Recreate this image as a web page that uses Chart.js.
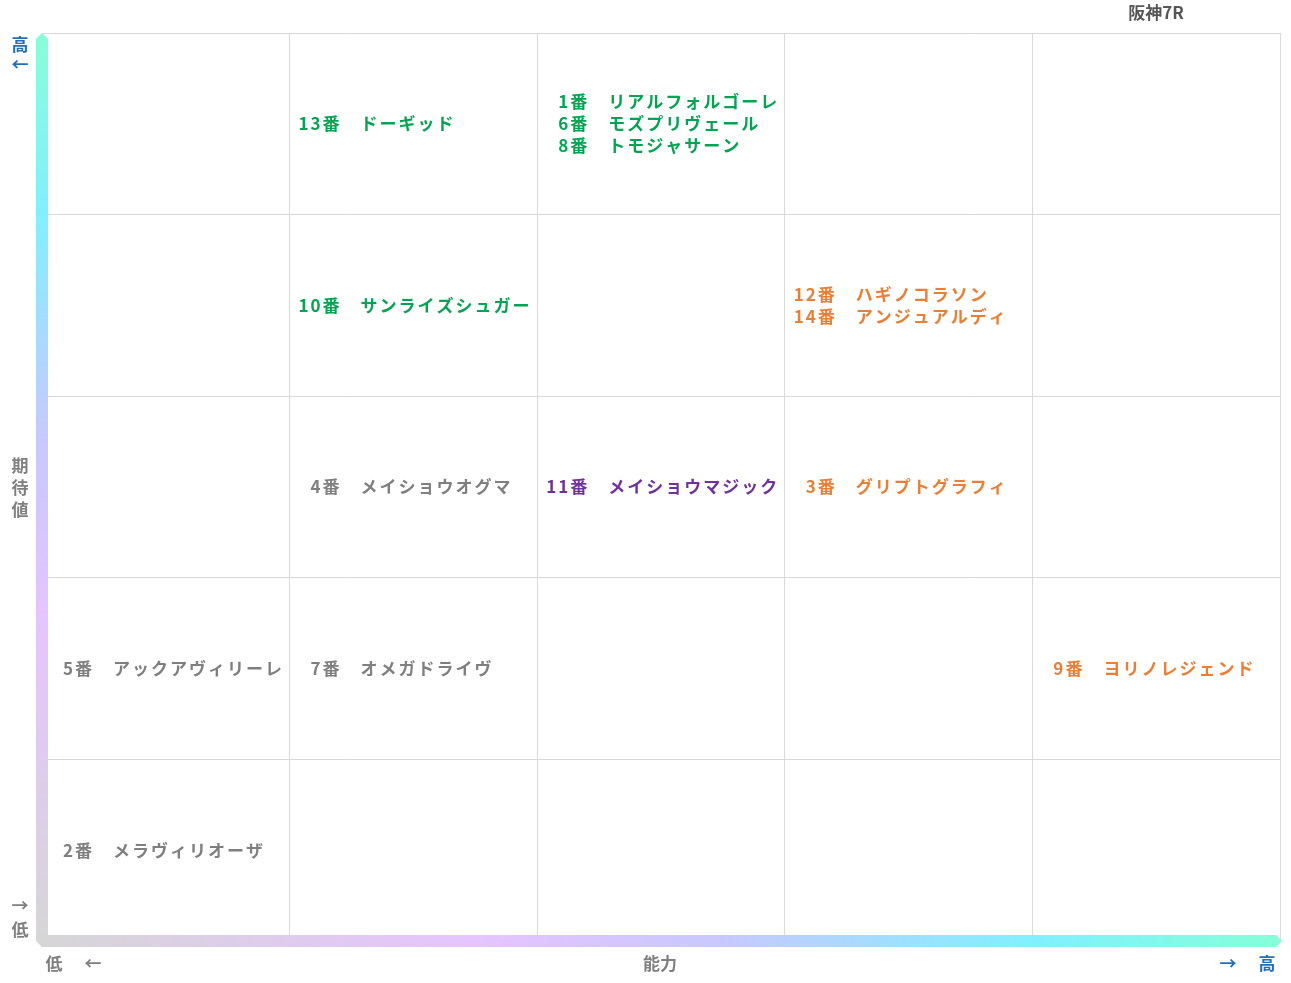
<!DOCTYPE html>
<html><head><meta charset="utf-8">
<script src="https://cdn.jsdelivr.net/npm/chart.js@4"></script>
<style>html,body{margin:0;padding:0;background:#fff}#w{width:1291px;height:983px}</style>
</head><body><div id="w"><canvas id="c"></canvas></div>
<script>
const title = "阪神7R";
const xAxisLabel = "能力";
const yAxisLabel = "期待値";
const horseNums  = [13, 1, 6, 8, 10, 12, 14, 4, 11, 3, 5, 7, 9, 2];
const horseNames = ["ドーギッド","リアルフォルゴーレ","モズプリヴェール","トモジャサーン","サンライズシュガー","ハギノコラソン","アンジュアルディ","メイショウオグマ","メイショウマジック","グリプトグラフィ","アックアヴィリーレ","オメガドライヴ","ヨリノレジェンド","メラヴィリオーザ"];
const abilityCol = [1, 2, 2, 2, 1, 3, 3, 1, 2, 3, 0, 1, 4, 0];
const expectRow  = [4, 4, 4, 4, 3, 3, 3, 2, 2, 2, 1, 1, 1, 0];
const groups     = ["g","g","g","g","g","o","o","n","p","o","n","n","o","n"];
const groupColors = {g:"#00a550", o:"#ed7d31", p:"#7030a0", n:"#7f7f7f"};

const FONT = '"Noto Sans CJK JP", sans-serif';
const labelPlugin = {
  id:'labels',
  afterDraw(chart){
    const {ctx, chartArea:a, scales:{x,y}} = chart;
    ctx.save();
    let g = ctx.createLinearGradient(0,a.top,0,a.bottom);
    g.addColorStop(0,'#85ffd8'); g.addColorStop(0.2,'#80f0ff'); g.addColorStop(0.45,'#c8c8ff');
    g.addColorStop(0.65,'#e6c4ff'); g.addColorStop(1,'#d6d6d6');
    ctx.fillStyle=g;
    ctx.beginPath(); ctx.moveTo(36,a.bottom); ctx.lineTo(36,a.top+6); ctx.lineTo(42,a.top); ctx.lineTo(48,a.top+6); ctx.lineTo(48,a.bottom-6); ctx.closePath(); ctx.fill();
    g = ctx.createLinearGradient(36,0,a.right+2,0);
    g.addColorStop(0,'#d6d6d6'); g.addColorStop(0.35,'#e6c4ff'); g.addColorStop(0.55,'#c8c8ff');
    g.addColorStop(0.8,'#80f0ff'); g.addColorStop(1,'#85ffd8');
    ctx.fillStyle=g;
    ctx.beginPath(); ctx.moveTo(36,a.bottom); ctx.lineTo(42,a.bottom-6); ctx.lineTo(a.right-4,a.bottom-6); ctx.lineTo(a.right+2,a.bottom); ctx.lineTo(a.right-4,a.bottom+6); ctx.lineTo(42,a.bottom+6); ctx.closePath(); ctx.fill();
    ctx.font = 'bold 17px '+FONT; ctx.textBaseline='middle';
    ctx.letterSpacing = '2px';
    const cells = {};
    horseNums.forEach((n,i)=>{const k=abilityCol[i]+'_'+expectRow[i]; (cells[k]=cells[k]||[]).push(i);});
    Object.values(cells).forEach(list=>{
      list.forEach((i,j)=>{
        const left = x.getPixelForValue(abilityCol[i]);
        const cy = y.getPixelForValue(expectRow[i]+0.5) + (j-(list.length-1)/2)*22;
        ctx.fillStyle = groupColors[groups[i]];
        ctx.textAlign='right'; ctx.fillText(horseNums[i]+'番', left+52, cy);
        ctx.textAlign='left'; ctx.fillText(horseNames[i], left+71, cy);
      });
    });
    ctx.letterSpacing = '0px';
    ctx.textAlign='center';
    ctx.fillStyle='#555'; ctx.fillText(title,1156,13);
    ctx.fillStyle='#7f7f7f';
    ctx.fillText(xAxisLabel,660,964);
    [...yAxisLabel].forEach((ch,k)=>ctx.fillText(ch,20,466+k*22));
    ctx.fillText('低',20,930); ctx.fillText('→',20,906);
    ctx.fillText('低',54,964); ctx.fillText('←',93,964);
    ctx.fillStyle='#1f6fbf';
    ctx.fillText('高',20,45); ctx.fillText('←',20,65);
    ctx.fillText('→',1228,964); ctx.fillText('高',1267,964);
    ctx.restore();
  }
};
new Chart(document.getElementById('c'),{
  type:'scatter',
  data:{datasets:[{data:[],pointRadius:0}]},
  options:{
    responsive:true, maintainAspectRatio:false, animation:false,
    layout:{padding:{left:42,top:33,right:11,bottom:42}},
    plugins:{legend:{display:false},tooltip:{enabled:false}},
    scales:{
      x:{min:0,max:5,ticks:{display:false,stepSize:1},border:{display:false},grid:{color:'#d9d9d9',drawTicks:false}},
      y:{min:0,max:5,ticks:{display:false,stepSize:1},border:{display:false},grid:{color:'#d9d9d9',drawTicks:false}}
    }
  },
  plugins:[labelPlugin]
});
</script></body></html>
